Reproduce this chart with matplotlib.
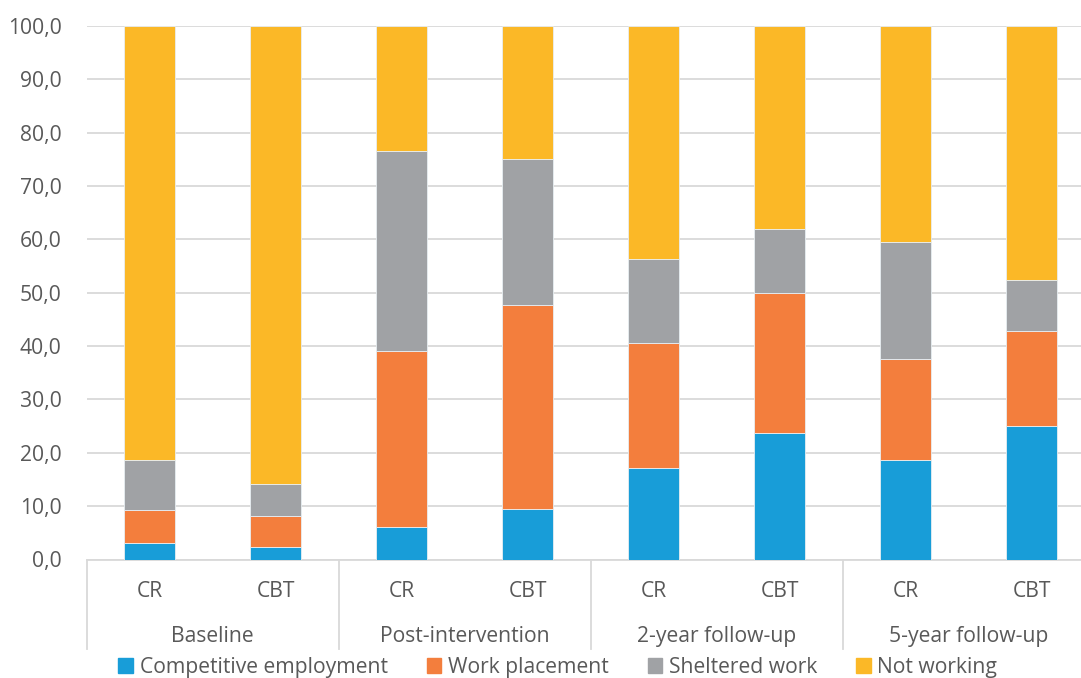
import matplotlib.pyplot as plt
import matplotlib.transforms as mtransforms
from matplotlib.patches import Patch
import numpy as np

plt.rcParams['font.family'] = ['Open Sans', 'DejaVu Sans']

groups = ['Baseline', 'Post-intervention', '2-year follow-up', '5-year follow-up']
arms = ['CR', 'CBT']
series = ['Competitive employment', 'Work placement', 'Sheltered work', 'Not working']
colors = ['#189DD8', '#F37E3D', '#A0A2A5', '#FBB827']

# cumulative tops, bar order: CR, CBT per time point
competitive = [3.0, 2.3, 6.1, 9.4, 17.2, 23.8, 18.7, 25.0]
placement_top = [9.3, 8.2, 39.1, 47.7, 40.6, 50.0, 37.5, 42.8]
sheltered_top = [18.6, 14.2, 76.6, 75.1, 56.3, 62.0, 59.5, 52.4]

competitive = np.array(competitive)
placement = np.array(placement_top) - competitive
sheltered = np.array(sheltered_top) - np.array(placement_top)
not_working = 100.0 - np.array(sheltered_top)
values = [competitive, placement, sheltered, not_working]

text_color = '#595959'
grid_color = '#D9D9D9'
fs = 15.2

fig = plt.figure(figsize=(10.81, 6.78), dpi=100)
ax = fig.add_axes([86.5 / 1081, 1 - 559.5 / 678, (1095 - 86.5) / 1081, (559.5 - 26) / 678])

x = np.arange(len(competitive))
bottom = np.zeros(len(x))
for vals, col, name in zip(values, colors, series):
    ax.bar(x, vals, 0.405, bottom=bottom, color=col, label=name,
           edgecolor='#E8EEF2', linewidth=0.6, zorder=3)
    bottom += vals

ax.set_xlim(-0.5, len(x) - 0.5)
ax.set_ylim(0, 100)
ax.set_yticks(np.arange(0, 101, 10))
ax.set_yticklabels([f'{v:.1f}'.replace('.', ',') for v in np.arange(0, 101, 10)])
ax.grid(axis='y', color=grid_color, linewidth=1.3, zorder=0)
ax.tick_params(axis='y', length=0, pad=18, labelsize=fs, labelcolor=text_color)
ax.set_xticks([])
for s in ['top', 'right', 'left']:
    ax.spines[s].set_visible(False)
ax.spines['bottom'].set_color(grid_color)
ax.spines['bottom'].set_linewidth(1.3)

# two level category axis
trans = mtransforms.blended_transform_factory(ax.transData, ax.transAxes)
for i in range(len(x)):
    ax.text(i, -0.06, arms[i % 2], transform=trans, ha='center', va='center',
            fontsize=fs, color=text_color)
for g, name in enumerate(groups):
    ax.text(2 * g + 0.5, -0.145, name, transform=trans, ha='center', va='center',
            fontsize=fs, color=text_color)
for g in range(len(groups)):
    ax.plot([2 * g - 0.5, 2 * g - 0.5], [0, -0.167], transform=trans,
            color=grid_color, linewidth=1.3, clip_on=False)

handles = [Patch(color=c) for c in colors]
fig.legend(handles, series, loc='center', bbox_to_anchor=(0.516, 0.016), ncol=4,
           frameon=False, fontsize=fs, labelcolor=text_color,
           handlelength=0.7, handleheight=0.7, handletextpad=0.3, columnspacing=1.85)

fig.savefig('out.png', dpi=100)
